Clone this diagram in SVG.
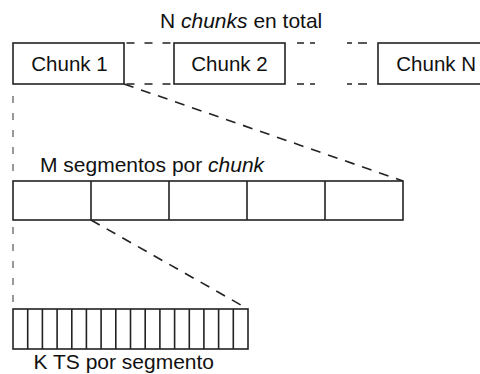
<svg xmlns="http://www.w3.org/2000/svg" width="480" height="374" viewBox="0 0 480 374">
<style>
text{font-family:"Liberation Sans",Arial,sans-serif;fill:#111;}
.lbl{font-size:21px;}
.ck{font-size:20.5px;}
.box{fill:#fff;stroke:#222;stroke-width:1.6;}
.div{stroke:#222;stroke-width:1.6;}
.dh{stroke:#222;stroke-width:1.5;stroke-dasharray:8,10;fill:none;}
.ds{stroke:#222;stroke-width:1.5;fill:none;}
.dv{stroke:#444;stroke-width:1.1;stroke-dasharray:7,10;fill:none;}
.dd{stroke:#222;stroke-width:1.6;stroke-dasharray:10,8;fill:none;}
</style>
<rect width="480" height="374" fill="#fff"/>
<g id="connectors">
<path class="dh" d="M126.5,43H174M126.5,84H174"/>
<path class="ds" d="M297,43H304M310,43H315M347,43H352M358,43H367M297,84H304M310,84H315M347,84H352M358,84H367"/>
<path class="dv" d="M13,96V181M13,227V309"/>
<path class="dd" d="M124,84L403,181"/>
<path class="dd" d="M91,220L248,309"/>
</g>
<g id="title"><text class="lbl" x="160" y="27.5">N <tspan font-style="italic">chunks</tspan> en total</text></g>
<g id="chunk1"><rect class="box" x="13" y="43" width="111" height="41"/><text class="ck" x="31.3" y="71">Chunk 1</text></g>
<g id="chunk2"><rect class="box" x="174" y="43" width="111" height="41"/><text class="ck" x="191.3" y="71">Chunk 2</text></g>
<g id="chunkN"><rect class="box" x="378" y="43" width="120" height="41"/><text class="ck" x="396.3" y="71">Chunk N</text></g>
<g id="segments-label"><text class="lbl" x="40" y="171.5">M segmentos por <tspan font-style="italic">chunk</tspan></text></g>
<g id="segments">
<rect class="box" x="13" y="181" width="390" height="39"/>
<path class="div" d="M91,181V220M169,181V220M247,181V220M325,181V220"/>
</g>
<g id="ts">
<rect class="box" x="13" y="309" width="235" height="40"/>
<path class="div" d="M27.7,309V349M42.4,309V349M57.1,309V349M71.8,309V349M86.4,309V349M101.1,309V349M115.8,309V349M130.5,309V349M145.2,309V349M159.9,309V349M174.6,309V349M189.3,309V349M203.9,309V349M218.6,309V349M233.3,309V349"/>
</g>
<g id="ts-label"><text class="lbl" x="33.5" y="369">K TS por segmento</text></g>
</svg>
